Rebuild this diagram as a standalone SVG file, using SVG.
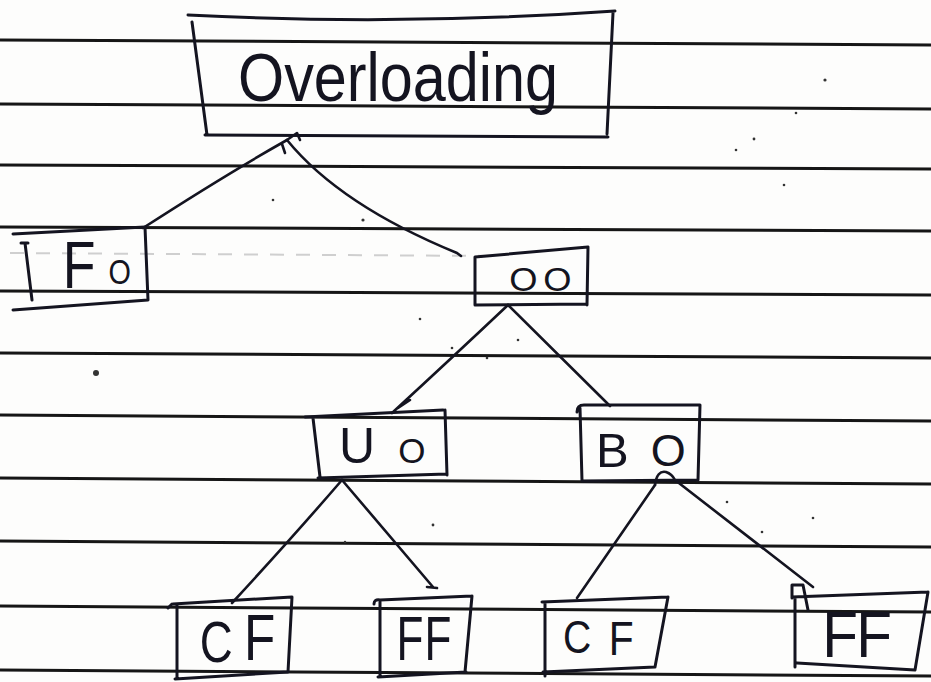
<svg xmlns="http://www.w3.org/2000/svg" width="931" height="682" viewBox="0 0 931 682">
  <style>
    .rule { stroke: #161616; stroke-width: 3; fill: none; }
    .box { stroke: #141420; stroke-width: 3; fill: none; stroke-linecap: round; stroke-linejoin: round; }
    .edge { stroke: #141420; stroke-width: 2.6; fill: none; stroke-linecap: round; stroke-linejoin: round; }
    .lbl { font-family: "Liberation Sans", Arial, sans-serif; fill: #141420; }
    .speck { fill: #333; }
  </style>
  <rect width="931" height="682" fill="#fdfdfc"/>

  <!-- ruled paper -->
  <g id="paper">
    <path class="rule" d="M0,40 L931,45 M0,104 L931,109 M0,165 L931,169 M0,227 L931,231 M0,291 L931,295 M0,353 L931,358 M0,415 L931,421 M0,478 L931,484 M0,541 L931,547 M0,606 L931,612 M0,670 L931,676"/>
    <path d="M10,253 L500,256" stroke="#cfcfcf" stroke-width="2" stroke-dasharray="14 12" fill="none"/>
    <circle class="speck" cx="96" cy="373" r="3"/>
    <circle class="speck" cx="825" cy="80" r="1.6"/>
    <circle class="speck" cx="754" cy="139" r="1.4"/>
    <circle class="speck" cx="796" cy="113" r="1.3"/>
    <circle class="speck" cx="736" cy="150" r="1.3"/>
    <circle class="speck" cx="784" cy="185" r="1.3"/>
    <circle class="speck" cx="273" cy="200" r="1.3"/>
    <circle class="speck" cx="363" cy="220" r="1.6"/>
    <circle class="speck" cx="420" cy="319" r="1.3"/>
    <circle class="speck" cx="518" cy="340" r="1.3"/>
    <circle class="speck" cx="452" cy="348" r="1.3"/>
    <circle class="speck" cx="487" cy="358" r="1.3"/>
    <circle class="speck" cx="433" cy="525" r="1.4"/>
    <circle class="speck" cx="345" cy="542" r="1.2"/>
    <circle class="speck" cx="727" cy="502" r="1.3"/>
    <circle class="speck" cx="813" cy="518" r="1.3"/>
    <circle class="speck" cx="762" cy="532" r="1.3"/>
  </g>

  <!-- connectors -->
  <g id="connectors">
    <path class="edge" d="M287,140 Q225,175 143,228"/>
    <path class="edge" d="M287,140 Q340,205 457,253 L461,256"/>
    <path class="edge" d="M282,144 L285,153 M287,140 L297,133 L300,140"/>
    <path class="edge" d="M508,305 Q455,355 392,413 M398,408 L410,400"/>
    <path class="edge" d="M508,305 L610,406"/>
    <path class="edge" d="M342,480 Q292,538 232,603"/>
    <path class="edge" d="M342,480 L433,587 M427,587 L437,588"/>
    <path class="edge" d="M655,485 L577,598"/>
    <path class="edge" d="M655,485 Q657,470 666,472 Q672,474 675,480 L813,587"/>
  </g>

  <g id="overloading">
    <path class="box" d="M188,15 Q400,26 615,11 M192,22 L207,135 M205,135 L608,137 M613,13 L607,134"/>
    <text class="lbl" x="238" y="101" font-size="68" textLength="320" lengthAdjust="spacingAndGlyphs">Overloading</text>
  </g>

  <g id="fo">
    <path class="box" d="M13,234 L145,227 M25,243 L32,300 M21,243 L28,243 M145,227 L148,300 M13,310 L148,300"/>
    <text class="lbl" transform="scale(0.8,1)"><tspan x="78.4" y="288" font-size="67">F</tspan><tspan x="135.7" y="284" font-size="36">O</tspan></text>
  </g>

  <g id="oo">
    <path class="box" d="M475,257 L588,247 M475,257 L475,305 M588,247 L587,305 M475,305 L587,304"/>
    <text class="lbl" transform="scale(1.1,1)"><tspan x="462.9" y="291" font-size="33">O</tspan><tspan x="493.8" y="291" font-size="33">O</tspan></text>
  </g>

  <g id="uo">
    <path class="box" d="M305,417 L443,410 M313,418 L320,477 M445,410 L447,475 M318,478 L447,474"/>
    <text class="lbl"><tspan x="339" y="463" font-size="50">U</tspan><tspan x="398.3" y="463" font-size="35">O</tspan></text>
  </g>

  <g id="bo">
    <path class="box" d="M577,412 Q577,405 584,405 L700,405 M580,408 L582,481 M700,405 L698,480 M582,481 L698,480"/>
    <text class="lbl"><tspan x="596" y="467" font-size="49">B</tspan><tspan x="650.7" y="466" font-size="45">O</tspan></text>
  </g>

  <g id="cf-1">
    <path class="box" d="M173,604 L292,597 M177,604 L177,678 M168,608 L172,604 M292,597 L288,672 M175,679 L288,672"/>
    <text class="lbl" transform="scale(0.8,1)"><tspan x="249.6" y="662" font-size="57">C</tspan><tspan x="304.9" y="660" font-size="64">F</tspan></text>
  </g>

  <g id="ff-1">
    <path class="box" d="M374,604 Q374,599 380,600 L472,596 M380,600 L380,677 M472,596 L465,672 M378,677 L466,672"/>
    <text class="lbl" transform="scale(0.7,1)"><tspan x="566.4" y="660" font-size="63">F</tspan><tspan x="606.4" y="660" font-size="63">F</tspan></text>
  </g>

  <g id="cf-2">
    <path class="box" d="M542,602 L668,597 M545,602 L545,676 M668,597 L655,667 M543,672 L655,667"/>
    <text class="lbl" transform="scale(0.85,1)"><tspan x="662.4" y="653" font-size="46">C</tspan><tspan x="716.1" y="655" font-size="48">F</tspan></text>
  </g>

  <g id="ff-2">
    <path class="box" d="M792,597 L928,592 M795,597 L795,667 M928,592 L915,670 M797,663 L915,670 M792,598 L792,585 L803,585 L808,610"/>
    <text class="lbl" transform="scale(0.9,1)"><tspan x="913.7" y="657" font-size="65">F</tspan><tspan x="951.4" y="657" font-size="65">F</tspan></text>
  </g>
</svg>
